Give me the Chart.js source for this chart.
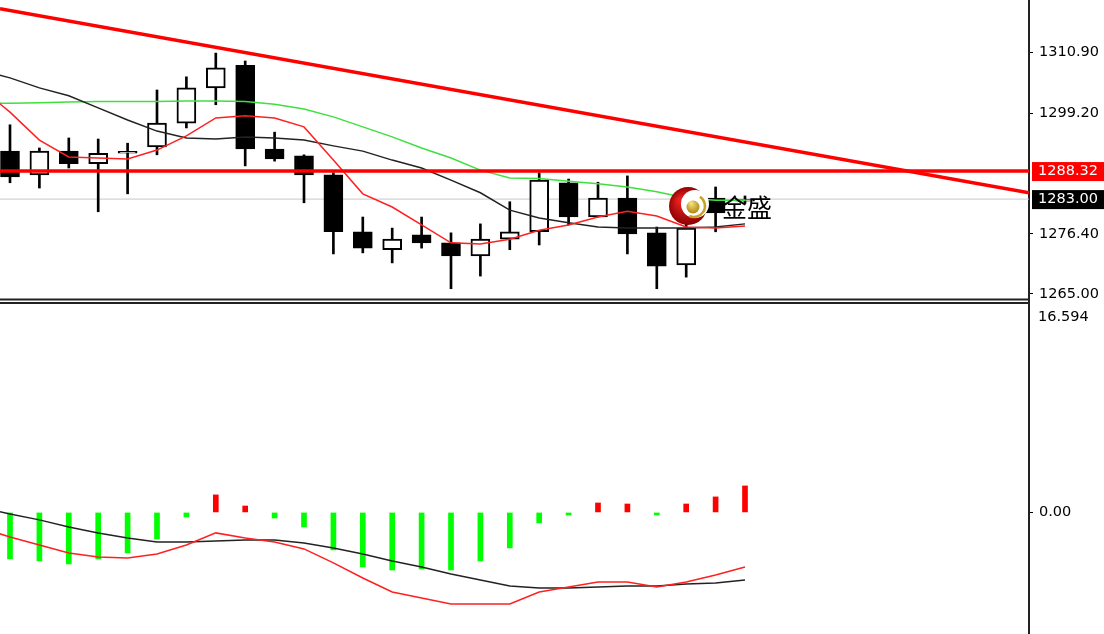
<!DOCTYPE html>
<html>
<head>
<meta charset="utf-8">
<script src="https://cdn.jsdelivr.net/npm/chart.js@4"></script>
<style>
  html, body { margin: 0; padding: 0; background: #fff; overflow: hidden; }
  #top { position: absolute; left: 0; top: 0; width: 1104px; height: 301px; }
  #bottom { position: absolute; left: 0; top: 301px; width: 1104px; height: 333px; }
</style>
</head>
<body>
<div id="top"><canvas id="priceChart"></canvas></div>
<div id="bottom"><canvas id="macdChart"></canvas></div>
<script>
// candles (bar index 0..25)
const opens  = [1292.1, 1287.6, 1292.1, 1289.7, 1291.7, 1292.9, 1297.4, 1304.1, 1308.4, 1292.5, 1291.2, 1287.6, 1276.8, 1273.4, 1276.2, 1274.7, 1272.2, 1275.4, 1276.8, 1286.1, 1279.6, 1283.2, 1276.6, 1270.5, 1283.2, 1282.6];
const highs  = [1297.1, 1292.7, 1294.6, 1294.4, 1293.6, 1303.7, 1306.2, 1310.7, 1309.2, 1295.7, 1291.4, 1288.0, 1279.6, 1277.5, 1279.6, 1276.6, 1278.3, 1282.5, 1288.0, 1286.8, 1286.2, 1287.4, 1277.7, 1278.7, 1285.3, 1283.6];
const lows   = [1286.1, 1285.1, 1288.9, 1280.6, 1284.0, 1291.4, 1296.5, 1300.9, 1289.3, 1290.2, 1282.3, 1272.6, 1272.8, 1270.9, 1273.7, 1266.0, 1268.4, 1273.4, 1274.3, 1278.1, 1279.6, 1272.6, 1266.0, 1268.2, 1276.8, 1282.2];
const closes = [1287.2, 1292.1, 1289.7, 1291.7, 1291.9, 1297.4, 1304.1, 1307.9, 1292.5, 1290.6, 1287.6, 1276.8, 1273.7, 1275.4, 1274.7, 1272.2, 1275.4, 1276.8, 1286.6, 1279.6, 1283.2, 1276.4, 1270.3, 1277.5, 1280.4, 1283.0];

// moving averages, bar index -1..25 (first point is the bar left of the window)
const maBlack = [1307.5, 1306.0, 1304.1, 1302.6, 1300.3, 1298.0, 1295.9, 1294.6, 1294.4, 1294.8, 1294.6, 1294.2, 1293.1, 1292.1, 1290.4, 1288.9, 1286.6, 1284.2, 1280.9, 1279.4, 1278.5, 1277.7, 1277.5, 1277.5, 1277.5, 1277.7, 1278.3];
const maGreen = [1301.2, 1301.2, 1301.3, 1301.4, 1301.5, 1301.5, 1301.5, 1301.6, 1301.6, 1301.5, 1301.0, 1300.1, 1298.6, 1296.7, 1294.8, 1292.7, 1290.8, 1288.5, 1287.0, 1286.9, 1286.4, 1285.9, 1285.3, 1284.4, 1283.2, 1282.8, 1282.8];
const maRed   = [1304.1, 1299.5, 1294.2, 1291.0, 1290.8, 1290.6, 1292.3, 1295.0, 1298.4, 1298.8, 1298.4, 1296.7, 1290.4, 1284.0, 1281.5, 1278.1, 1274.7, 1274.5, 1275.4, 1277.1, 1278.1, 1279.6, 1280.7, 1279.8, 1277.7, 1277.5, 1277.9];

// trendline anchors (bar index, price) and level lines
const trendX = [-0.34, 34.66];
const trendY = [1319.1, 1284.2];
const resistance = 1288.32;
const lastPrice = 1283.00;
const priceTicks = [1265.00, 1276.40, 1299.20, 1310.90];

// oscillator panel
const histVals = [-3.68, -3.84, -4.08, -3.68, -3.21, -2.10, -0.36, 1.39, 0.51, -0.44, -1.15, -2.97, -4.32, -4.56, -4.48, -4.56, -3.84, -2.81, -0.83, -0.20, 0.75, 0.67, -0.20, 0.67, 1.23, 2.10];
const oscBlack = [0.40, -0.12, -0.59, -1.15, -1.62, -2.02, -2.34, -2.34, -2.26, -2.18, -2.18, -2.42, -2.81, -3.29, -3.84, -4.32, -4.87, -5.35, -5.82, -5.98, -5.98, -5.90, -5.82, -5.82, -5.67, -5.59, -5.35];
const oscRed   = [-1.23, -1.94, -2.58, -3.21, -3.53, -3.61, -3.29, -2.58, -1.62, -2.02, -2.34, -2.89, -4.00, -5.19, -6.30, -6.78, -7.25, -7.25, -7.25, -6.30, -5.90, -5.51, -5.51, -5.90, -5.51, -4.95, -4.32];
const oscMaxLabel = '16.594';
const oscTicks = [0];

const xMin = -0.34, xMax = 34.66;
const axisFont = { family: 'DejaVu Sans', size: 14.5 };

const idx = opens.map((_, i) => i);
const toPts = arr => arr.map((v, i) => ({ x: i - 1, y: v }));

function lineSet(data, color, width, order) {
  return { type: 'line', data: data, borderColor: color, borderWidth: width, pointRadius: 0, tension: 0, order: order };
}

const priceOverlay = {
  id: 'priceOverlay',
  afterDatasetsDraw(chart) {
    const ctx = chart.ctx;
    // watermark logo
    const cx = 688, cy = 206;
    ctx.save();
    const g = ctx.createRadialGradient(cx - 8, cy - 6, 2, cx, cy, 20);
    g.addColorStop(0, '#e82020');
    g.addColorStop(1, '#8a0000');
    ctx.beginPath(); ctx.arc(cx, cy, 19, 0, Math.PI * 2); ctx.fillStyle = g; ctx.fill();
    ctx.beginPath(); ctx.arc(cx + 7, cy - 2, 14, 0, Math.PI * 2); ctx.fillStyle = '#fff'; ctx.fill();
    ctx.beginPath(); ctx.arc(cx + 6, cy, 11, -1.0, 2.0); ctx.strokeStyle = '#c9a227'; ctx.lineWidth = 2.5; ctx.stroke();
    const gb = ctx.createRadialGradient(cx + 3, cy - 3, 1, cx + 5, cy, 7);
    gb.addColorStop(0, '#f3de7a');
    gb.addColorStop(1, '#b08a18');
    ctx.beginPath(); ctx.arc(cx + 5, cy + 1, 6.5, 0, Math.PI * 2); ctx.fillStyle = gb; ctx.fill();
    ctx.fillStyle = '#000';
    ctx.font = '25px "Noto Sans CJK SC"';
    ctx.textBaseline = 'middle';
    ctx.fillText('金盛', 722, 207);
    ctx.restore();
  },
  afterDraw(chart) {
    const ctx = chart.ctx;
    const area = chart.chartArea;
    const y = chart.scales.y;
    ctx.save();
    // panel bottom border
    ctx.strokeStyle = '#222';
    ctx.lineWidth = 2;
    ctx.beginPath(); ctx.moveTo(0, 299.5); ctx.lineTo(area.right, 299.5); ctx.stroke();
    // boxed price labels
    ctx.font = '14.5px "DejaVu Sans"';
    ctx.textBaseline = 'middle';
    [[resistance, '#ff0000'], [lastPrice, '#000000']].forEach(([v, bg]) => {
      const py = y.getPixelForValue(v);
      ctx.fillStyle = bg;
      ctx.fillRect(area.right + 3, py - 9, 1104 - area.right - 3, 19);
      ctx.fillStyle = '#fff';
      ctx.fillText(v.toFixed(2), area.right + 9, py + 0.5);
    });
    ctx.restore();
  }
};

new Chart(document.getElementById('priceChart'), {
  type: 'line',
  data: {
    datasets: [
      { type: 'bar', data: idx.map(i => ({ x: i, y: [lows[i], highs[i]] })), backgroundColor: '#000', barThickness: 2, grouped: false, order: 6 },
      { type: 'bar', data: idx.map(i => ({ x: i, y: [opens[i], closes[i]] })),
        backgroundColor: idx.map(i => closes[i] < opens[i] ? '#000' : '#fff'),
        borderColor: '#000', borderWidth: 2, borderSkipped: false, minBarLength: 2,
        barThickness: 19, grouped: false, order: 5 },
      lineSet([{ x: xMin, y: lastPrice }, { x: xMax, y: lastPrice }], '#c8c8c8', 1, 7),
      lineSet(toPts(maGreen), '#3ee03e', 1.5, 4),
      lineSet(toPts(maBlack), '#222', 1.5, 3),
      lineSet(toPts(maRed), '#ff2020', 1.5, 2),
      lineSet([{ x: xMin, y: resistance }, { x: xMax, y: resistance }], '#ff0000', 3.5, 1),
      lineSet(trendX.map((x, i) => ({ x: x, y: trendY[i] })), '#ff0000', 3.5, 0)
    ]
  },
  options: {
    responsive: true, maintainAspectRatio: false, animation: false,
    layout: { padding: 0 },
    plugins: { legend: { display: false }, tooltip: { enabled: false } },
    scales: {
      x: { type: 'linear', display: false, min: xMin, max: xMax, offset: false },
      y: {
        position: 'right', min: 1263.67, max: 1320.77,
        afterBuildTicks: s => { s.ticks = priceTicks.map(v => ({ value: v })); },
        afterFit: s => { s.width = 75; s.paddingTop = 0; s.paddingBottom = 0; },
        ticks: { callback: v => Number(v).toFixed(2), font: axisFont, color: '#000', padding: 6 },
        grid: { drawOnChartArea: false, drawTicks: true, tickLength: 4, color: '#000' },
        border: { display: true, color: '#222', width: 2 }
      }
    }
  },
  plugins: [priceOverlay]
});

const oscOverlay = {
  id: 'oscOverlay',
  afterDraw(chart) {
    const ctx = chart.ctx;
    const area = chart.chartArea;
    ctx.save();
    ctx.strokeStyle = '#222';
    ctx.lineWidth = 2;
    ctx.beginPath(); ctx.moveTo(0, 2); ctx.lineTo(area.right, 2); ctx.stroke();
    ctx.fillStyle = '#000';
    ctx.font = '14.5px "DejaVu Sans"';
    ctx.textBaseline = 'middle';
    ctx.fillText(oscMaxLabel, area.right + 9, 16);
    ctx.restore();
  }
};

new Chart(document.getElementById('macdChart'), {
  type: 'line',
  data: {
    datasets: [
      { type: 'bar', data: idx.map(i => ({ x: i, y: histVals[i] })),
        backgroundColor: histVals.map(v => v < 0 ? '#00ff00' : '#ff0000'),
        barThickness: 5, grouped: false, order: 3 },
      lineSet(toPts(oscBlack), '#222', 1.5, 2),
      lineSet(toPts(oscRed), '#ff2020', 1.5, 1)
    ]
  },
  options: {
    responsive: true, maintainAspectRatio: false, animation: false,
    layout: { padding: 0 },
    plugins: { legend: { display: false }, tooltip: { enabled: false } },
    scales: {
      x: { type: 'linear', display: false, min: xMin, max: xMax, offset: false },
      y: {
        position: 'right', min: -9.63, max: 16.75,
        afterBuildTicks: s => { s.ticks = oscTicks.map(v => ({ value: v })); },
        afterFit: s => { s.width = 75; s.paddingTop = 0; s.paddingBottom = 0; },
        ticks: { callback: v => Number(v).toFixed(2), font: axisFont, color: '#000', padding: 6 },
        grid: { drawOnChartArea: false, drawTicks: true, tickLength: 4, color: '#000' },
        border: { display: true, color: '#222', width: 2 }
      }
    }
  },
  plugins: [oscOverlay]
});
</script>
</body>
</html>
